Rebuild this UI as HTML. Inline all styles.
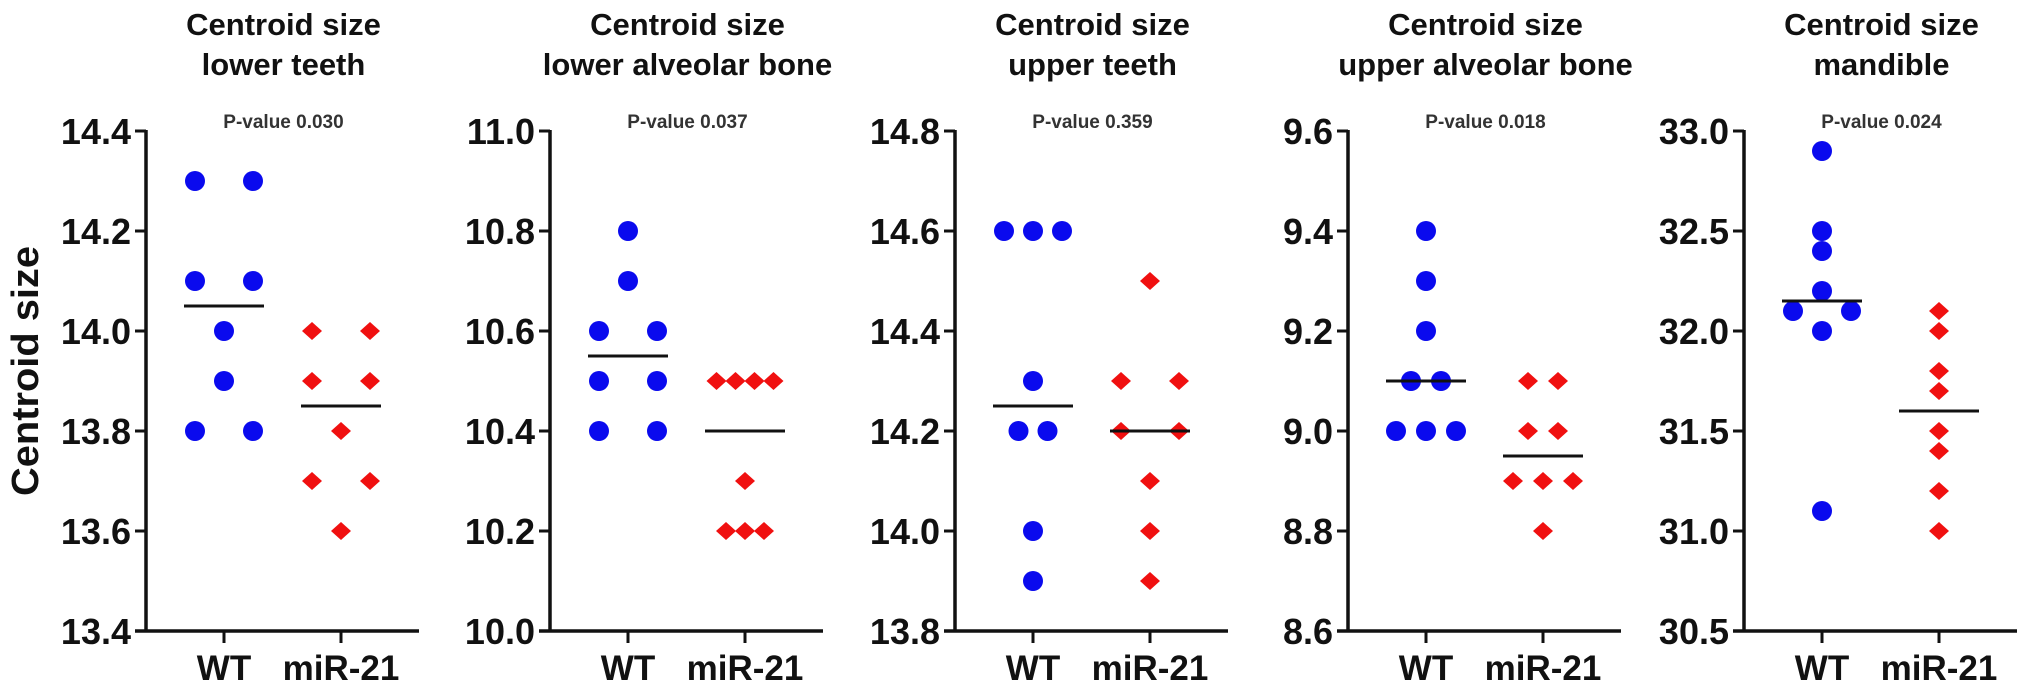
<!DOCTYPE html>
<html><head><meta charset="utf-8">
<style>
html,body{margin:0;padding:0;background:#fff;}
svg{display:block;font-family:"Liberation Sans",Arial,sans-serif;}
</style></head>
<body>
<svg id="chart" width="2031" height="693" viewBox="0 0 2031 693">
<text x="28" y="371" transform="rotate(-90 28 371)" text-anchor="middle" dominant-baseline="middle" font-size="38" font-weight="bold" fill="#111" textLength="250" lengthAdjust="spacingAndGlyphs">Centroid size</text>
</svg>
<script>
const titles1 = ["Centroid size","Centroid size","Centroid size","Centroid size","Centroid size"];
const titles2 = ["lower teeth","lower alveolar bone","upper teeth","upper alveolar bone","mandible"];
const pvalues = ["P-value 0.030","P-value 0.037","P-value 0.359","P-value 0.018","P-value 0.024"];
const categories = ["WT","miR-21"];
const yMin = [13.4, 10.0, 13.8, 8.6, 30.5];
const yMax = [14.4, 11.0, 14.8, 9.6, 33.0];
const yStep = [0.2, 0.2, 0.2, 0.2, 0.5];
const wtValues = [
  [14.3,14.3,14.1,14.1,14.0,13.9,13.8,13.8],
  [10.8,10.7,10.6,10.6,10.5,10.5,10.4,10.4],
  [14.6,14.6,14.6,14.3,14.2,14.2,14.0,13.9],
  [9.4,9.3,9.2,9.1,9.1,9.0,9.0,9.0],
  [32.9,32.5,32.4,32.2,32.1,32.1,32.0,31.1]
];
const mirValues = [
  [14.0,14.0,13.9,13.9,13.8,13.7,13.7,13.6],
  [10.5,10.5,10.5,10.5,10.3,10.2,10.2,10.2],
  [14.5,14.3,14.3,14.2,14.2,14.1,14.0,13.9],
  [9.1,9.1,9.0,9.0,8.9,8.9,8.9,8.8],
  [32.1,32.0,31.8,31.7,31.5,31.4,31.2,31.0]
];
const wtMedian = [14.05, 10.55, 14.25, 9.1, 32.15];
const mirMedian = [13.85, 10.4, 14.2, 8.95, 31.6];

const axisX = [146, 550, 955, 1348, 1744];
const wtGap = [58, 58, 29, 30, 58];
const mirGap = [58, 19, 58, 30, 58];
const TOP = 131, BOT = 631, AXW = 273;
const NS = "http://www.w3.org/2000/svg";
const svg = document.getElementById('chart');

function mk(tag, attrs, parent){
  const e = document.createElementNS(NS, tag);
  for (const k in attrs) e.setAttribute(k, attrs[k]);
  (parent||svg).appendChild(e);
  return e;
}

for (let p = 0; p < 5; p++) {
  const ax = axisX[p];
  const g = mk('g', {});
  
  
  const y = v => BOT - (v - yMin[p]) / (yMax[p] - yMin[p]) * (BOT - TOP);
  const cx = ax + AXW/2 + 1;

  let t = mk('text', {x: cx, y: 35, 'text-anchor':'middle', 'font-size':31, 'font-weight':'bold', fill:'#111'}, g);
  t.textContent = titles1[p];
  
  
  t = mk('text', {x: cx, y: 75, 'text-anchor':'middle', 'font-size':31, 'font-weight':'bold', fill:'#111'}, g);
  t.textContent = titles2[p];
  
  
  t = mk('text', {x: cx, y: 128, 'text-anchor':'middle', 'font-size':19, 'font-weight':'bold', fill:'#333'}, g);
  t.textContent = pvalues[p];
  
  

  let l = mk('line', {x1: ax, y1: TOP-1, x2: ax, y2: BOT+1.5, stroke:'#111', 'stroke-width':3.5}, g);
  
  
  l = mk('line', {x1: ax-11, y1: BOT, x2: ax+AXW, y2: BOT, stroke:'#111', 'stroke-width':3.5}, g);
  
  

  const n = Math.round((yMax[p]-yMin[p])/yStep[p]);
  for (let i = 0; i <= n; i++) {
    const v = yMin[p] + i*yStep[p];
    const yy = y(v);
    const tk = mk('line', {x1: ax-11, y1: yy, x2: ax, y2: yy, stroke:'#111', 'stroke-width':3}, g);
    
    
    const tl = mk('text', {x: ax-15, y: yy+13, 'text-anchor':'end', 'font-size':36, 'font-weight':'bold', fill:'#111'}, g);
    tl.textContent = v.toFixed(1);
    
    
  }

  const catX = [ax+78, ax+195];
  for (let c = 0; c < 2; c++) {
    const tk = mk('line', {x1: catX[c], y1: BOT, x2: catX[c], y2: BOT+12, stroke:'#111', 'stroke-width':3}, g);
    
    
    const tl = mk('text', {x: catX[c], y: 680, 'text-anchor':'middle', 'font-size':35, 'font-weight':'bold', fill:'#111'}, g);
    tl.textContent = categories[c];
    
    
  }

  const groups = [wtValues[p], mirValues[p]];
  const gaps = [wtGap[p], mirGap[p]];
  const meds = [wtMedian[p], mirMedian[p]];
  for (let c = 0; c < 2; c++) {
    const vals = groups[c];
    const counts = {};
    vals.forEach(v => { const k = v.toFixed(3); counts[k] = (counts[k]||0) + 1; });
    const seen = {};
    vals.forEach(v => {
      const k = v.toFixed(3);
      const idx = seen[k] = (seen[k] === undefined ? 0 : seen[k] + 1);
      const px = catX[c] + (idx - (counts[k]-1)/2) * gaps[c];
      const py = y(v);
      let m;
      if (c === 0) {
        m = mk('circle', {cx: px, cy: py, r: 10, fill:'#0a0aee'}, g);
        
      } else {
        m = mk('polygon', {points: `${px-10},${py} ${px},${py-9} ${px+10},${py} ${px},${py+9}`, fill:'#f01010'}, g);
        
      }
      
    });
    const my = y(meds[c]);
    const ml = mk('line', {x1: catX[c]-40, y1: my, x2: catX[c]+40, y2: my, stroke:'#111', 'stroke-width':3}, g);
    
    
  }
}
</script>
</body></html>
